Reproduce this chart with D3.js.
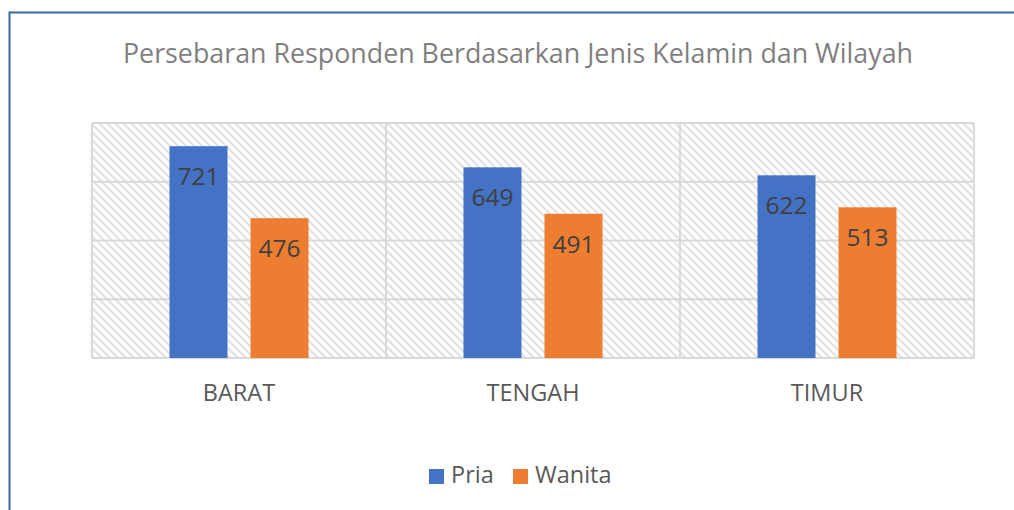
<!DOCTYPE html>
<html>
<head>
<meta charset="utf-8">
<script src="https://cdn.jsdelivr.net/npm/d3@7"></script>
<style>
  body { margin: 0; background: #fff; }
  svg { display: block; font-family: "Open Sans", "Noto Sans", sans-serif; }
</style>
</head>
<body>
<div id="chart"></div>
<script>
var categories = ["BARAT", "TENGAH", "TIMUR"];
var seriesNames = ["Pria", "Wanita"];
var pria = [721, 649, 622];
var wanita = [476, 491, 513];
var yTicks = [0, 200, 400, 600, 800];
var colors = ["#4472C4", "#ED7D31"];

var width = 1014,
    height = 510,
    plot = { left: 92, right: 974, top: 123, bottom: 358 };

var svg = d3.select("#chart")
    .append("svg")
    .attr("width", width)
    .attr("height", height);

// hatch pattern for plot area
var defs = svg.append("defs");
var pat = defs.append("pattern")
    .attr("id", "hatch")
    .attr("patternUnits", "userSpaceOnUse")
    .attr("width", 8)
    .attr("height", 8);
pat.append("rect").attr("width", 8).attr("height", 8).attr("fill", "#fff");
pat.append("path")
    .attr("d", "M-2,-2 L10,10 M-2,6 L2,10 M6,-2 L10,2")
    .attr("stroke", "#e2e2e2")
    .attr("stroke-width", 2.2);

// chart border (only top/left visible)
svg.append("rect")
    .attr("x", 9.5)
    .attr("y", 12.5)
    .attr("width", 1100)
    .attr("height", 600)
    .attr("fill", "none")
    .attr("stroke", "#3b67a3")
    .attr("stroke-width", 2);

var y = d3.scaleLinear().domain([0, 800]).range([plot.bottom, plot.top]);

var x0 = d3.scaleBand()
    .domain(categories)
    .range([plot.left, plot.right])
    .padding(0);

var x1 = d3.scaleBand()
    .domain(seriesNames)
    .range([77.5, x0.bandwidth() - 77.5])
    .paddingInner(0.284)
    .paddingOuter(0);

svg.append("rect")
    .attr("x", plot.left)
    .attr("y", plot.top)
    .attr("width", plot.right - plot.left)
    .attr("height", plot.bottom - plot.top)
    .attr("fill", "url(#hatch)");

// gridlines
svg.selectAll(".grid")
    .data(yTicks).enter()
    .append("line")
    .attr("x1", plot.left)
    .attr("x2", plot.right)
    .attr("y1", function(d) { return y(d); })
    .attr("y2", function(d) { return y(d); })
    .attr("stroke", "#d9d9d9")
    .attr("stroke-width", 2);

// vertical category separators
var seps = [plot.left].concat(categories.map(function(c) { return x0(c) + x0.bandwidth(); }));
svg.selectAll(".vsep")
    .data(seps).enter()
    .append("line")
    .attr("x1", function(d) { return d; })
    .attr("x2", function(d) { return d; })
    .attr("y1", plot.top)
    .attr("y2", plot.bottom)
    .attr("stroke", "#d9d9d9")
    .attr("stroke-width", 2);

var rows = categories.map(function(c, i) {
    return { cat: c, vals: [{ s: "Pria", v: pria[i] }, { s: "Wanita", v: wanita[i] }] };
});

var groups = svg.selectAll(".grp")
    .data(rows).enter()
    .append("g")
    .attr("transform", function(d) { return "translate(" + x0(d.cat) + ",0)"; });

groups.selectAll("rect")
    .data(function(d) { return d.vals; }).enter()
    .append("rect")
    .attr("x", function(d) { return x1(d.s); })
    .attr("y", function(d) { return y(d.v); })
    .attr("width", x1.bandwidth())
    .attr("height", function(d) { return y(0) - y(d.v); })
    .attr("fill", function(d, i) { return colors[i]; });

groups.selectAll("text.val")
    .data(function(d) { return d.vals; }).enter()
    .append("text")
    .attr("class", "val")
    .attr("x", function(d) { return x1(d.s) + x1.bandwidth() / 2; })
    .attr("y", function(d) { return y(d.v) + 39; })
    .attr("text-anchor", "middle")
    .attr("font-size", 24.5)
    .attr("fill", "#404040")
    .text(function(d) { return d.v; });

// category labels
svg.selectAll(".cat")
    .data(categories).enter()
    .append("text")
    .attr("x", function(d) { return x0(d) + x0.bandwidth() / 2; })
    .attr("y", 401)
    .attr("text-anchor", "middle")
    .attr("font-size", 23.5)
    .attr("fill", "#595959")
    .text(function(d) { return d; });

// title
svg.append("text")
    .attr("x", 518)
    .attr("y", 63)
    .attr("text-anchor", "middle")
    .attr("font-size", 26.8)
    .attr("fill", "#7f7f7f")
    .text("Persebaran Responden Berdasarkan Jenis Kelamin dan Wilayah");

// legend
var legendX = [429, 513];
var leg = svg.selectAll(".leg")
    .data(seriesNames).enter()
    .append("g")
    .attr("transform", function(d, i) { return "translate(" + legendX[i] + ",469)"; });
leg.append("rect")
    .attr("width", 15)
    .attr("height", 15)
    .attr("fill", function(d, i) { return colors[i]; });
leg.append("text")
    .attr("x", 22)
    .attr("y", 14)
    .attr("font-size", 23.5)
    .attr("fill", "#595959")
    .text(function(d) { return d; });
</script>
</body>
</html>
